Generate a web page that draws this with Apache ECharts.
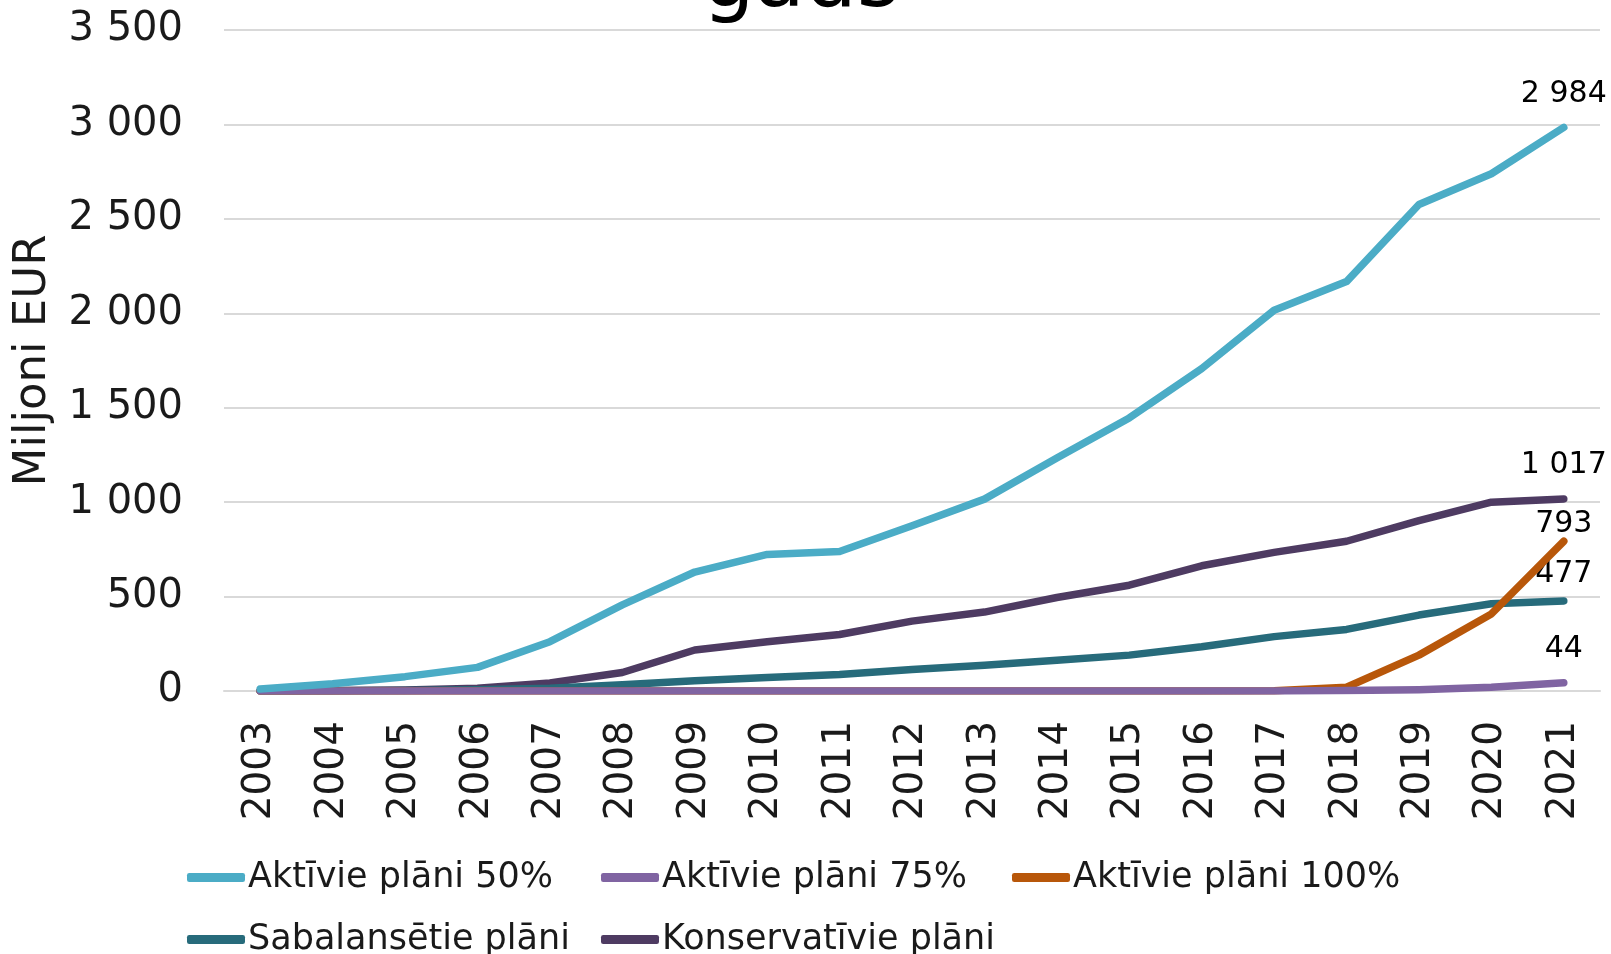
<!DOCTYPE html>
<html><head><meta charset="utf-8">
<script src="https://cdn.jsdelivr.net/npm/echarts@6/dist/echarts.min.js"></script>
<style>html,body{margin:0;padding:0;background:#fff}#c{width:1611px;height:954px}</style>
</head><body><div id="c"></div>
<script>
const years = ['2003','2004','2005','2006','2007','2008','2009','2010','2011','2012','2013','2014','2015','2016','2017','2018','2019','2020','2021'];
const seriesNames = ['Aktīvie plāni 50%','Aktīvie plāni 75%','Aktīvie plāni 100%','Sabalansētie plāni','Konservatīvie plāni'];
const aktivie50 = [10,38,76,125,261,456,630,723,739,875,1016,1234,1446,1707,2016,2168,2576,2739,2984];
const aktivie75 = [0,0,0,0,0,0,0,0,0,0,0,0,0,0,0,2,7,20,44];
const aktivie100 = [0,0,0,0,0,0,0,0,0,0,0,0,0,0,1,20,190,408,793];
const sabalansetie = [0,1,3,6,15,33,54,71,87,114,136,163,190,234,288,326,402,462,477];
const konservativie = [2,3,5,15,43,98,217,261,299,370,418,495,560,663,734,793,902,1000,1017];
const yTicks = [0,500,1000,1500,2000,2500,3000,3500];

const colors = ['#4BACC6','#8064A2','#B8570A','#276B7B','#4E3B62'];
const FONT = 'DejaVu Sans';
function fmt(v){ return String(v).replace(/\B(?=(\d{3})+(?!\d))/g,' '); }

const datas = [aktivie50, aktivie75, aktivie100, sabalansetie, konservativie];
const labelOffsets = [[0,0],[0,0],[0,16],[0,7],[0,0]];
const series = seriesNames.map((n,i)=>({
  name:n, type:'line',
  data:datas[i].map((v,j)=>{
    if(j===datas[i].length-1){
      return {value:v, symbol:'circle', symbolSize:1,
        label:{show:true, position:'top', distance:18, offset:labelOffsets[i], formatter:p=>fmt(p.value), fontFamily:FONT, fontSize:30, color:'#000'}};
    }
    return {value:v, symbol:'none'};
  }),
  showSymbol:true, symbol:'circle', symbolSize:1, smooth:false,
  lineStyle:{width:7.5, color:colors[i], cap:'round', join:'round'},
  itemStyle:{color:colors[i]},
  z: 10-i
}));

const legendPos = [[187,860],[601,860],[1012,860],[187,922],[601,922]];
const legends = seriesNames.map((n,i)=>({
  data:[n], left:legendPos[i][0], top:legendPos[i][1], padding:0,
  icon:'roundRect', itemWidth:58, itemHeight:9, itemGap:0,
  textStyle:{fontFamily:FONT, fontSize:35, color:'#1a1a1a', padding:[0,0,0,-2]}
}));

const chart = echarts.init(document.getElementById('c'));
chart.setOption({
  animation:false,
  graphic:[{type:'text', x:801, y:26, style:{text:'gads', fontFamily:FONT, fontSize:82, fill:'#000', align:'center', verticalAlign:'bottom'}}],
  grid:{left:224, right:11, top:30, bottom:263, containLabel:false},
  legend:legends,
  xAxis:{type:'category', data:years, boundaryGap:true,
    axisLine:{show:true, lineStyle:{color:'#D9D9D9', width:2}},
    axisTick:{show:false},
    axisLabel:{rotate:90, fontFamily:FONT, fontSize:39, color:'#1a1a1a', margin:30, interval:0}},
  yAxis:{type:'value', min:0, max:3500, interval:500,
    name:'Miljoni EUR', nameLocation:'middle', nameGap:168, nameRotate:90,
    nameTextStyle:{fontFamily:FONT, fontSize:45, color:'#1a1a1a'},
    axisLine:{show:false}, axisTick:{show:false},
    splitLine:{lineStyle:{color:'#D9D9D9', width:2}},
    axisLabel:{fontFamily:FONT, fontSize:40, color:'#1a1a1a', margin:41, formatter:v=>yTicks.includes(v)?fmt(v):''}},
  series:series
});
</script></body></html>
